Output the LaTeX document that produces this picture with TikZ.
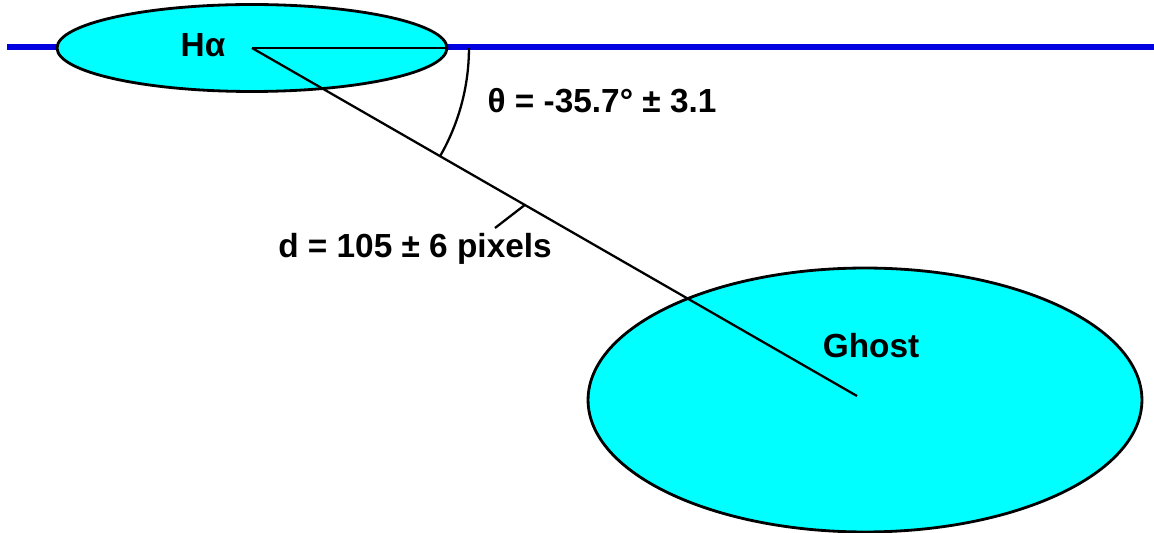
\documentclass[tikz,border=0pt]{standalone}
\usepackage{fontspec}
\setmainfont{Liberation Sans}
\usepackage{tikz}
\usetikzlibrary{shapes.geometric, calc}
\definecolor{ghostcyan}{RGB}{0, 255, 255}
\definecolor{axisblue}{RGB}{0, 0, 225}

\begin{document}
\begin{tikzpicture}[x=0.02cm, y=-0.02cm,
  blob/.style={ellipse, draw=black, line width=1.6pt, fill=ghostcyan,
               inner sep=0pt, outer sep=0pt},
  conn/.style={black, line width=1.3pt},
  lbl/.style={font=\fontsize{19}{22}\selectfont\bfseries, anchor=base, inner sep=0pt}]
  \useasboundingbox (0,0) rectangle (1154,533);
  \coordinate (axw) at (7,47);
  \coordinate (axe) at (1154,47);
  \draw[axisblue, line width=3.2pt] (axw) -- (axe);
  \node[blob, minimum width=7.8cm, minimum height=1.74cm] (ha) at (252,48) {};
  \node[blob, minimum width=11.08cm, minimum height=5.28cm] (ghost) at (865,400) {};
  \coordinate (gend) at (857,396);
  \coordinate (dmid) at ($(ha.center)!0.451!(gend)$);
  \coordinate (dtick) at (495,228);
  \draw[conn] (ha.center) -- (ha.east);
  \draw[conn] (ha.center) -- (gend);
  \draw[conn] ([shift={(0:4.34cm)}]ha.center) arc[start angle=0, end angle=-29.9, radius=4.34cm];
  \draw[conn] (dmid) -- (dtick);
  \node[lbl] (halbl) at (203,57) {Hα};
  \node[lbl] (theta) at (602,113) {θ = -35.7° ± 3.1};
  \node[lbl] (dist) at (415,258) {d = 105 ± 6 pixels};
  \node[lbl] (ghostlbl) at (871,358) {Ghost};
\end{tikzpicture}
\end{document}
